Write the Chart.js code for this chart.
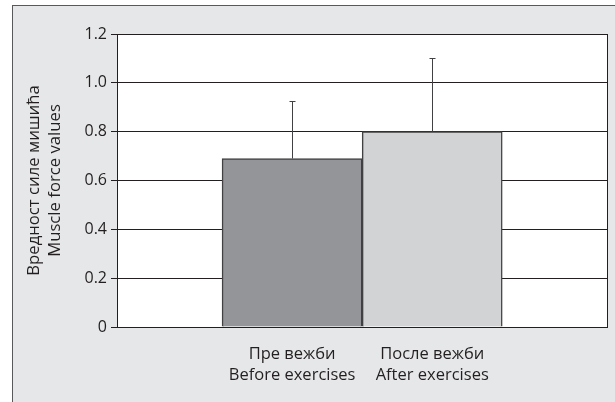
<!DOCTYPE html>
<html>
<head>
<meta charset="utf-8">
<script src="https://cdn.jsdelivr.net/npm/chart.js@4/dist/chart.umd.min.js"></script>
<style>
  html, body { margin: 0; padding: 0; background: #ffffff; }
  #wrap { position: relative; width: 615px; height: 402px; overflow: hidden; }
  #frame { position: absolute; left: 12px; top: 5px; width: 640px; height: 420px;
           background: #e6e7e8; border-left: 1.5px solid #58595b; border-top: 1.5px solid #58595b; }
  canvas { position: absolute; left: 0; top: 0; }
</style>
</head>
<body>
<div id="wrap">
  <div id="frame"></div>
  <canvas id="c" width="615" height="402"></canvas>
</div>
<script>
// Mean muscle force before and after the exercise programme, with upper error bars
const categories = [
  ['Пре вежби', 'Before exercises'],
  ['После вежби', 'After exercises']
];
const means = [0.69, 0.80];
const errorTops = [0.925, 1.10];
const barColors = ['#939598', '#d1d3d4'];
const yTicks = [0, 0.2, 0.4, 0.6, 0.8, 1.0, 1.2];
const axisTitle = ['Вредност силе мишића', 'Muscle force values'];

const ink = '#231f20';
const fontFamily = '"Open Sans", "Liberation Sans", sans-serif';

// White plot area with a thin frame round it
const plotBox = {
  id: 'plotBox',
  beforeDraw(chart) {
    const { ctx, chartArea: a } = chart;
    ctx.save();
    ctx.fillStyle = '#ffffff';
    ctx.fillRect(a.left, a.top, a.right - a.left, a.bottom - a.top);
    ctx.restore();
  },
  afterDraw(chart) {
    const { ctx, chartArea: a } = chart;
    ctx.save();
    ctx.strokeStyle = ink;
    ctx.lineWidth = 1;
    ctx.strokeRect(a.left + 0.5, a.top + 0.5, a.right - a.left - 1, a.bottom - a.top);
    ctx.restore();
  }
};

// Upper error whiskers with a short cap
const errorBars = {
  id: 'errorBars',
  afterDatasetsDraw(chart) {
    const { ctx } = chart;
    const y = chart.scales.y;
    const meta = chart.getDatasetMeta(0);
    ctx.save();
    ctx.strokeStyle = '#414042';
    ctx.lineWidth = 1;
    meta.data.forEach((bar, i) => {
      const x = Math.round(bar.x) + 0.5;
      const yTop = Math.round(y.getPixelForValue(errorTops[i])) + 0.5;
      ctx.beginPath();
      ctx.moveTo(x, y.getPixelForValue(means[i]));
      ctx.lineTo(x, yTop);
      ctx.moveTo(x - 3, yTop);
      ctx.lineTo(x + 3, yTop);
      ctx.stroke();
    });
    ctx.restore();
  }
};

new Chart(document.getElementById('c'), {
  type: 'bar',
  data: {
    datasets: [{
      data: means.map((v, i) => ({ x: i, y: v })),
      backgroundColor: barColors,
      borderColor: '#414042',
      borderWidth: 1.5,
      categoryPercentage: 1,
      barPercentage: 1
    }]
  },
  options: {
    responsive: false,
    animation: false,
    layout: { padding: { top: 34, right: 7, bottom: 0, left: 0 } },
    plugins: { legend: { display: false }, tooltip: { enabled: false } },
    scales: {
      x: {
        type: 'linear',
        offset: false,
        min: -1.25,
        max: 2.255,
        afterBuildTicks(scale) { scale.ticks = categories.map((_, i) => ({ value: i })); },
        afterFit(scale) { scale.height = 75; },
        grid: { display: false },
        border: { display: false },
        ticks: {
          autoSkip: false,
          maxRotation: 0,
          padding: 9,
          color: ink,
          font: { family: fontFamily, size: 16.5, lineHeight: 1.28 },
          callback: (v) => categories[v]
        }
      },
      y: {
        min: 0,
        max: 1.2,
        afterBuildTicks(scale) { scale.ticks = yTicks.map(v => ({ value: v })); },
        afterFit(scale) { scale.width = 117; },
        grid: { color: ink, lineWidth: 1, tickLength: 6, drawTicks: true },
        border: { display: false },
        ticks: {
          color: ink,
          padding: 4,
          font: { family: fontFamily, size: 16 },
          callback: (v) => v === 0 ? '0' : v.toFixed(1)
        },
        title: {
          display: true,
          text: axisTitle,
          color: ink,
          font: { family: fontFamily, size: 16.7, lineHeight: 1.3 },
          padding: { top: 23, bottom: 0 }
        }
      }
    }
  },
  plugins: [plotBox, errorBars]
});
</script>
</body>
</html>
